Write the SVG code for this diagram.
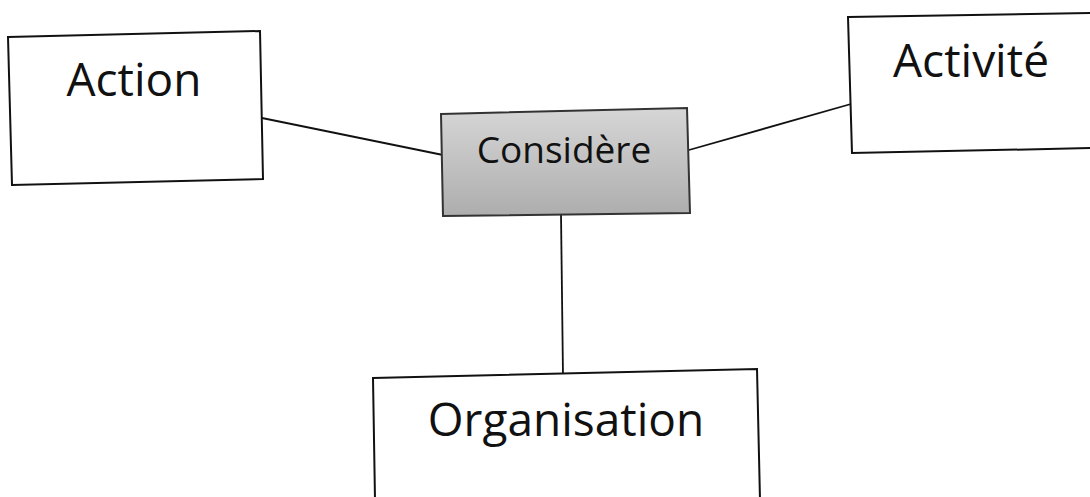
<svg xmlns="http://www.w3.org/2000/svg" width="1090" height="497" viewBox="0 0 1090 497">
<style>
.box{fill:#ffffff;stroke:#111111;stroke-width:2;stroke-linejoin:miter}
.lbl{font-family:"Open Sans","Noto Sans","Liberation Sans",sans-serif;fill:#111111;text-anchor:middle}
.big{font-size:46px}
.mid{font-size:37px}
.conn{stroke:#111111;stroke-width:1.8;fill:none}
</style>
<defs>
<linearGradient id="gray" x1="0" y1="0" x2="0" y2="1">
<stop offset="0" stop-color="#d6d6d6"/>
<stop offset="0.5" stop-color="#c2c2c2"/>
<stop offset="1" stop-color="#adadad"/>
</linearGradient>
</defs>
<rect width="1090" height="497" fill="#ffffff"/>
<g id="connectors">
<line class="conn" x1="262" y1="118" x2="443" y2="155"/>
<line class="conn" x1="689" y1="150" x2="851" y2="104"/>
<line class="conn" x1="561" y1="214" x2="563" y2="376"/>
</g>
<g id="node-action">
<polygon class="box" points="8,37 260,31 263,179 12,185"/>
<text class="lbl big" x="134" y="96">Action</text>
</g>
<g id="node-considere">
<polygon points="441,114 687,108 690,213 443,216" fill="url(#gray)" stroke="#333333" stroke-width="2"/>
<text class="lbl mid" x="564" y="163">Considère</text>
</g>
<g id="node-activite">
<polygon class="box" points="848,17 1095,13 1095,148 852,153"/>
<text class="lbl big" x="971" y="77">Activité</text>
</g>
<g id="node-organisation">
<polygon class="box" points="373,378 757,369 760,500 375,500"/>
<text class="lbl big" x="566" y="436">Organisation</text>
</g>
</svg>
